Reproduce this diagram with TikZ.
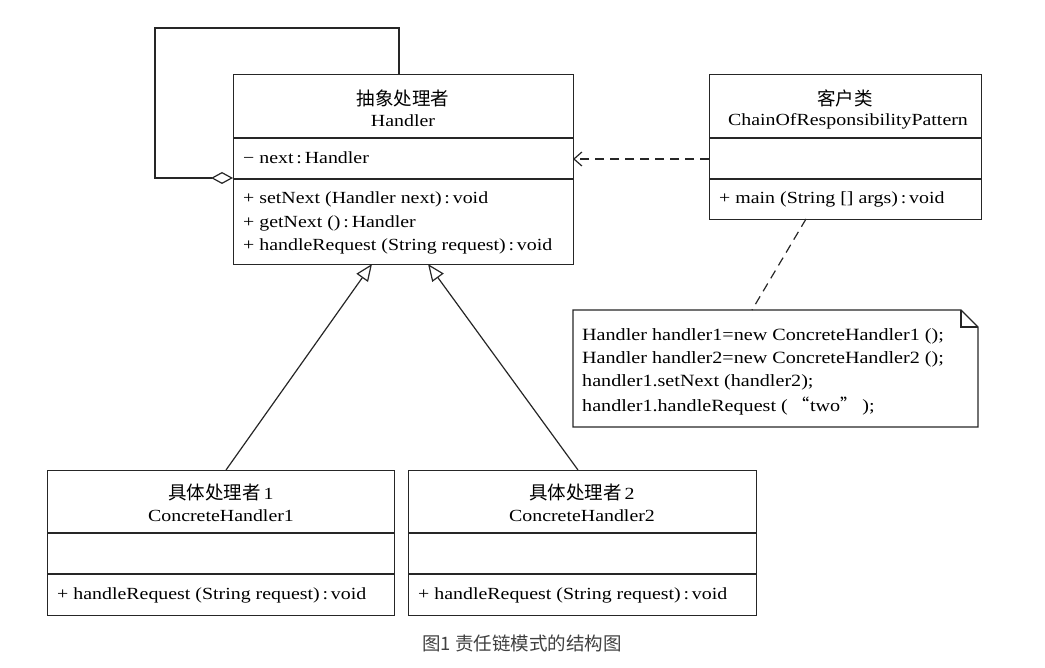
\documentclass[tikz,border=0pt]{standalone}
\usepackage{fontspec}
\setmainfont[FakeStretch=1.17]{Liberation Serif}
\newfontfamily\cjk{Noto Sans CJK SC}
\usetikzlibrary{arrows.meta}
\begin{document}
\begin{tikzpicture}[x=1pt,y=-1pt,
  ln/.style={draw=black!85, line width=1.2pt},
  box/.style={ln, inner sep=0pt, anchor=north west},
  txt/.style={font=\fontsize{17}{20}\selectfont, inner sep=0pt},
  lt/.style={txt, anchor=west},
  nt/.style={font=\fontsize{17.2}{20}\selectfont, inner sep=0pt, anchor=west},
  cj/.style={font=\cjk\fontsize{18.5}{20}\selectfont, inner sep=0pt},
  dsh/.style={ln, dash pattern=on 9pt off 6pt},
  gen/.style={ln, -{Triangle[open, length=17pt, width=14pt]}},
  agg/.style={ln, {Diamond[open, length=22pt, width=12pt]}-}
]
\useasboundingbox (0,0) rectangle (1045,668);

% Handler
\node[box, minimum width=340pt, minimum height=190pt] (H) at (233,74) {};
\draw[ln] (233,138) -- (573,138);
\draw[ln] (233,179) -- (573,179);
\node[cj] (Ht1) at (403,98) {抽象处理者};
\node[txt] (Ht2) at (403,121) {Handler};
\node[lt] (Ha) at (243,158) {− next\,:\,Handler};
\node[lt] (Hm1) at (243,199) {+ setNext (Handler next)\,:\,void};
\node[lt] (Hm2) at (243,223) {+ getNext ()\,:\,Handler};
\node[lt] (Hm3) at (243,246) {+ handleRequest (String request)\,:\,void};

% Client
\node[box, minimum width=272pt, minimum height=145pt] (C) at (709,74) {};
\draw[ln] (709,138) -- (981,138);
\draw[ln] (709,179) -- (981,179);
\node[cj] (Ct1) at (845,98) {客户类};
\node[txt] (Ct2) at (848,121) {ChainOfResponsibilityPattern};
\node[lt] (Cm) at (719,199) {+ main (String [] args)\,:\,void};

% Note
\draw[ln] (573,310) -- (961,310) -- (978,327) -- (978,427) -- (573,427) -- cycle;
\draw[ln] (961,310) -- (961,327) -- (978,327);
\coordinate (N) at (752,310);
\node[nt] (N1) at (582,336) {Handler handler1=new ConcreteHandler1 ();};
\node[nt] (N2) at (582,359) {Handler handler2=new ConcreteHandler2 ();};
\node[nt] (N3) at (582,382) {handler1.setNext (handler2);};
\node[nt] (N4) at (582,406) {handler1.handleRequest ( {\cjk “}two{\cjk ”} );};

% Concrete handlers
\node[box, minimum width=347pt, minimum height=145pt] (A) at (47,470) {};
\draw[ln] (47,533) -- (394,533);
\draw[ln] (47,574) -- (394,574);
\node[txt] (At1) at (221,492) {{\cjk\fontsize{18.5}{20}\selectfont 具体处理者}\,1};
\node[txt] (At2) at (221,516) {ConcreteHandler1};
\node[lt] (Am) at (57,595) {+ handleRequest (String request)\,:\,void};

\node[box, minimum width=348pt, minimum height=145pt] (B) at (408,470) {};
\draw[ln] (408,533) -- (756,533);
\draw[ln] (408,574) -- (756,574);
\node[txt] (Bt1) at (582,492) {{\cjk\fontsize{18.5}{20}\selectfont 具体处理者}\,2};
\node[txt] (Bt2) at (582,516) {ConcreteHandler2};
\node[lt] (Bm) at (418,595) {+ handleRequest (String request)\,:\,void};

% connectors
\coordinate (g1s) at (226,470); \coordinate (g1e) at (372,264);
\coordinate (g2s) at (578,470); \coordinate (g2e) at (428,264);
\draw[gen] (g1s) -- (g1e);
\draw[gen] (g2s) -- (g2e);

\coordinate (aggs) at (233,178);
\coordinate (agge) at (399,74);
\draw[agg] (aggs) -- (155,178) -- (155,28) -- (399,28) -- (agge);

\coordinate (dps) at (709,159); \coordinate (dpe) at (573,159);
\draw[dsh, -{Straight Barb[length=8pt, width=14pt]}] (dps) -- (dpe);

\coordinate (cb) at (806,219);
\draw[dsh] (cb) -- (N);

% caption
\node[font=\cjk\fontsize{18.5}{22}\selectfont, text=black!75, inner sep=0pt] (cap) at (522,643) {图1 责任链模式的结构图};
\end{tikzpicture}
\end{document}
